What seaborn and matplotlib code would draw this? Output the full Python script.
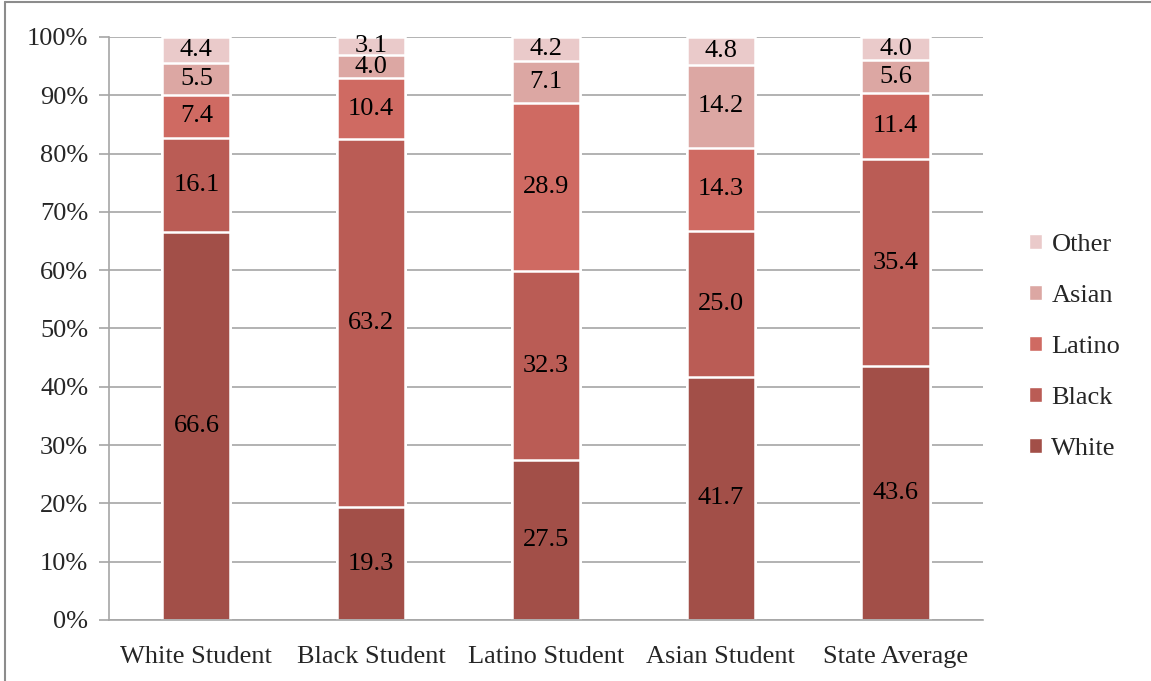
import numpy as np
import pandas as pd
import matplotlib
matplotlib.use("Agg")
import matplotlib.pyplot as plt
from matplotlib.lines import Line2D
from matplotlib.patches import Patch
import seaborn as sns

categories = ["White Student", "Black Student", "Latino Student", "Asian Student", "State Average"]
groups = ["White", "Black", "Latino", "Asian", "Other"]
white = [66.6, 19.3, 27.5, 41.7, 43.6]
black = [16.1, 63.2, 32.3, 25.0, 35.4]
latino = [7.4, 10.4, 28.9, 14.3, 11.4]
asian = [5.5, 4.0, 7.1, 14.2, 5.6]
other = [4.4, 3.1, 4.2, 4.8, 4.0]
y_ticks = [0, 10, 20, 30, 40, 50, 60, 70, 80, 90, 100]

colors = {
    "White": "#A24F48",
    "Black": "#BA5C55",
    "Latino": "#CF6A62",
    "Asian": "#DCA7A3",
    "Other": "#EACACA",
}

sns.set_theme(style="white")
plt.rcParams["font.family"] = ["Liberation Serif", "DejaVu Serif"]
FS = 19

df = pd.DataFrame({"category": categories, "White": white, "Black": black,
                   "Latino": latino, "Asian": asian, "Other": other})
cum = df[groups].cumsum(axis=1)

fig = plt.figure(figsize=(11.51, 6.81), dpi=100)
ax = fig.add_axes([0.0947, 0.0896, 0.7593, 0.8561])

# gridlines behind the bars
for t in y_ticks:
    ax.axhline(t, color="#A6A6A6", lw=1.2, zorder=0)

# draw cumulative layers from the top down so each lower segment covers the one above
for g in reversed(groups):
    sns.barplot(data=cum.assign(category=categories), x="category", y=g,
                color=colors[g], width=0.39, saturation=1,
                edgecolor="white", linewidth=1.8, ax=ax, zorder=2)

# segment values
for i, cat in enumerate(categories):
    bottom = 0.0
    for g in groups:
        v = df.loc[i, g]
        ax.text(i, bottom + v / 2, f"{v:.1f}", ha="center", va="center",
                fontsize=FS, color="black", zorder=3)
        bottom += v

ax.set_xlim(-0.5, len(categories) - 0.5)
ax.set_ylim(0, 100)
ax.set_yticks(y_ticks)
ax.set_yticklabels([f"{t}%" for t in y_ticks], fontsize=FS)
ax.set_xticks(range(len(categories)))
ax.set_xticklabels(categories, fontsize=FS)
ax.set_xticks(np.arange(-0.5, len(categories), 1.0), minor=True)
ax.tick_params(axis="x", which="major", length=0, pad=19)
ax.tick_params(axis="x", which="minor", length=7, width=1.2, color="#A6A6A6", direction="out")
ax.tick_params(axis="y", length=7, width=1.2, color="#A6A6A6", direction="out", pad=8, left=True)
ax.set_xlabel("")
ax.set_ylabel("")
for s in ["top", "right"]:
    ax.spines[s].set_visible(False)
for s in ["left", "bottom"]:
    ax.spines[s].set_color("#A6A6A6")
    ax.spines[s].set_linewidth(1.2)

handles = [Patch(facecolor=colors[g], edgecolor="white", label=g) for g in reversed(groups)]
fig.legend(handles=handles, loc="center left", bbox_to_anchor=(0.894, 0.491),
           frameon=False, fontsize=FS, handlelength=0.5, handleheight=0.5,
           handletextpad=0.35, labelspacing=1.1, borderaxespad=0, borderpad=0)

# outer frame
fig.add_artist(Line2D([5 / 1151, 5 / 1151], [0, 1 - 2 / 681], transform=fig.transFigure,
                      color="#8C8C8C", lw=1.5))
fig.add_artist(Line2D([5 / 1151, 1], [1 - 2 / 681, 1 - 2 / 681], transform=fig.transFigure,
                      color="#8C8C8C", lw=1.5))

fig.savefig("out.png", dpi=100)
